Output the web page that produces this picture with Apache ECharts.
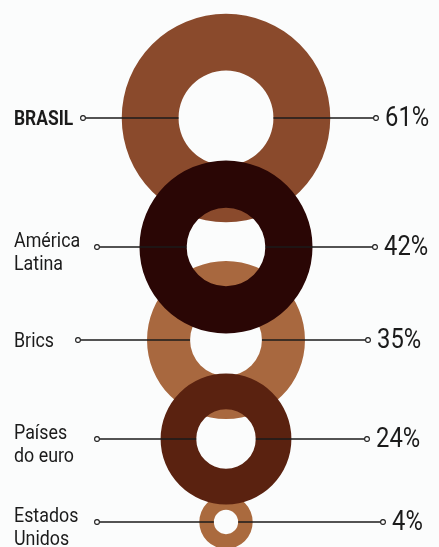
<!DOCTYPE html>
<html>
<head>
<meta charset="utf-8">
<title>Participação por região</title>
<script src="https://cdn.jsdelivr.net/npm/echarts@6/dist/echarts.min.js"></script>
<style>
  html, body { margin: 0; padding: 0; background: #fbfcfc; }
  #chart { width: 439px; height: 547px; }
</style>
</head>
<body>
<div id="chart"></div>
<script>
// Data
const categories = ['BRASIL', 'América\nLatina', 'Brics', 'Países\ndo euro', 'Estados\nUnidos'];
const values = [61, 42, 35, 24, 4];
const valueLabels = ['61%', '42%', '35%', '24%', '4%'];

// Layout (one row per category)
const rowY = [118, 247, 340, 439, 522];
const leftDotX = [83, 97, 78, 97, 97];
const rightDotX = [376, 375, 368, 367, 383];
const ringColors = ['#8a4a2c', '#2a0605', '#a8683f', '#5a2210', '#aa6a3e'];
const stackOrder = [1, 4, 2, 5, 3];

const CX = 226;
const AREA_SCALE = 13.35;   // ring area proportional to the value
const HOLE_RATIO = 0.455;
const FONT = 'Roboto, "DejaVu Sans Condensed", sans-serif';
const NARROW = 0.85;        // condensed look for the labels
const INK = '#1b1b1b';

const outerR = v => AREA_SCALE * Math.sqrt(v);
const innerR = v => outerR(v) * HOLE_RATIO;

const chart = echarts.init(document.getElementById('chart'), null, { renderer: 'canvas' });

const series = values.map((v, i) => ({
  type: 'pie',
  name: categories[i],
  center: [CX, rowY[i]],
  radius: [innerR(v), outerR(v)],
  z: stackOrder[i],
  silent: true,
  animation: false,
  label: { show: false },
  labelLine: { show: false },
  itemStyle: { color: ringColors[i], borderWidth: 0 },
  data: [{ name: categories[i], value: v }]
}));

const graphics = [];
values.forEach((v, i) => {
  const y = rowY[i];
  const hole = innerR(v);
  const lineStyle = { stroke: INK, lineWidth: 1.5 };
  // leader lines through the ring
  graphics.push({
    type: 'line', z: 100, silent: true,
    shape: { x1: leftDotX[i] + 2.5, y1: y, x2: CX - hole, y2: y },
    style: lineStyle
  });
  graphics.push({
    type: 'line', z: 100, silent: true,
    shape: { x1: CX + hole, y1: y, x2: rightDotX[i] - 2.5, y2: y },
    style: lineStyle
  });
  // open dots at both ends
  [leftDotX[i], rightDotX[i]].forEach(x => graphics.push({
    type: 'circle', z: 101, silent: true,
    shape: { cx: x, cy: y, r: 2.4 },
    style: { fill: '#ffffff', stroke: INK, lineWidth: 1.1 }
  }));
  // category name
  const twoLines = categories[i].indexOf('\n') >= 0;
  graphics.push({
    type: 'text', z: 101, silent: true,
    x: 14, y: twoLines ? y + 6 : y + 2,
    scaleX: i === 0 ? 0.83 : NARROW,
    style: {
      text: categories[i],
      fill: INK,
      font: (i === 0 ? 'bold 21px ' : '21px ') + FONT,
      lineHeight: 23,
      align: 'left',
      verticalAlign: 'middle'
    }
  });
  // value
  graphics.push({
    type: 'text', z: 101, silent: true,
    x: rightDotX[i] + 9, y: y + 1,
    scaleX: NARROW,
    style: {
      text: valueLabels[i],
      fill: INK,
      font: '28px ' + FONT,
      align: 'left',
      verticalAlign: 'middle'
    }
  });
});

chart.setOption({
  backgroundColor: '#fbfcfc',
  animation: false,
  series: series,
  graphic: graphics
});
</script>
</body>
</html>
